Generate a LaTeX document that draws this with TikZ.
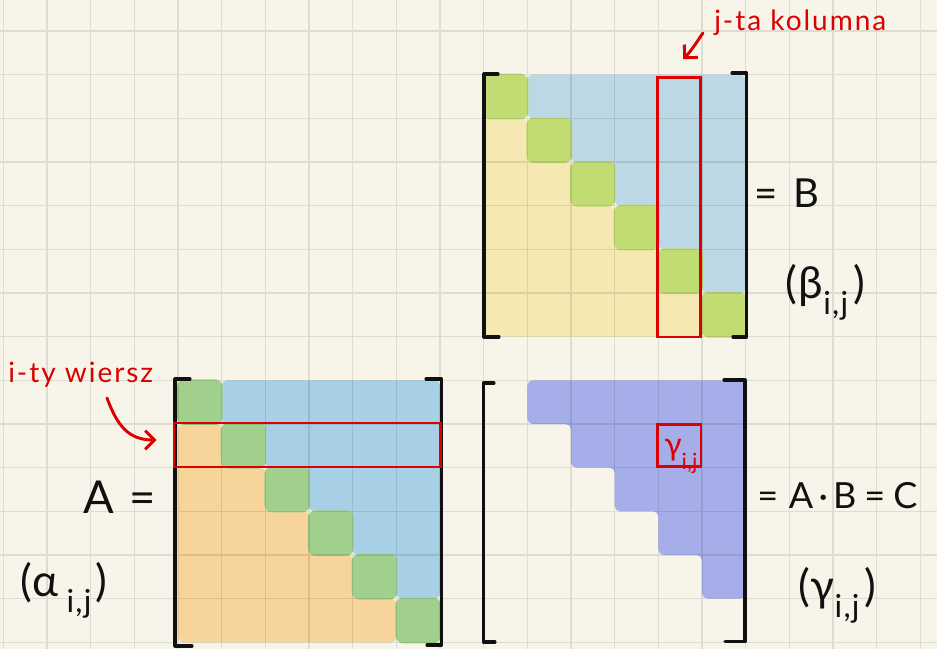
\documentclass[tikz,border=0pt]{standalone}
\usepackage{fontspec}
\setmainfont{Lato}
\newfontfamily\penfont{Lato}[LetterSpace=7.0]
\newfontfamily\inkfont{Lato}[LetterSpace=4.0]
\usetikzlibrary{arrows.meta}
\definecolor{bg}{HTML}{F7F5E9}
\definecolor{Ablue}{HTML}{A7CFE5}
\definecolor{Agreen}{HTML}{A0D08C}
\definecolor{Aorange}{HTML}{F6D49A}
\definecolor{Bblue}{HTML}{BCD8E4}
\definecolor{Bgreen}{HTML}{C2DC74}
\definecolor{Byellow}{HTML}{F5E8B2}
\definecolor{Cpurple}{HTML}{A6AEEA}
\definecolor{pen}{HTML}{DD0000}
\definecolor{ink}{HTML}{111111}
\newcommand\subij{\raisebox{-0.75ex}{\scalebox{0.72}{i,j}}}
\tikzset{
  gridline/.style={draw=black, draw opacity=0.1, line width=1.1pt},
  blob/.style={rounded corners=4pt},
  brk/.style={draw=ink, line width=2.3pt, line cap=round, line join=round},
  redbox/.style={draw=pen, line width=2.2pt, inner sep=0pt, rectangle},
  redarrow/.style={draw=pen, line width=2.2pt, line cap=round,
    -{Straight Barb[length=7pt,width=14pt,line width=2.2pt]}},
  redlabel/.style={text=pen, font=\penfont\fontsize{21}{21}\selectfont, inner sep=0pt},
  biglabel/.style={text=ink, inner sep=0pt},
}
\begin{document}
\begin{tikzpicture}[x=0.75pt,y=-0.75pt]
\useasboundingbox (0,0) rectangle (937,649);
\fill[bg] (0,0) rectangle (937,649);
% lattice coordinates of the three matrices
\foreach \m/\ox/\oy in {A/178/380.3, B/483.7/74.7, C/483.7/380.3}
  \foreach \r in {0,...,6}
    \foreach \c in {0,...,6}
      \coordinate (\m-\r-\c) at ({\ox+\c*43.67},{\oy+\r*43.67});
% matrix A
\fill[Ablue, blob] (A-0-1) -- (A-0-6) -- (A-5-6) -- (A-5-5) -- (A-4-5) -- (A-4-4) -- (A-3-4) -- (A-3-3) -- (A-2-3) -- (A-2-2) -- (A-1-2) -- (A-1-1) -- cycle;
\fill[Aorange, blob] (A-1-0) -- (A-1-1) -- (A-2-1) -- (A-2-2) -- (A-3-2) -- (A-3-3) -- (A-4-3) -- (A-4-4) -- (A-5-4) -- (A-5-5) -- (A-6-5) -- (A-6-0) -- cycle;
\foreach \i [evaluate=\i as \j using int(\i+1)] in {0,...,5}
  \fill[Agreen, rounded corners=6pt] ([shift={(-1,-1)}]A-\i-\i) rectangle ([shift={(1,1)}]A-\j-\j);
% matrix B
\fill[Bblue, blob] (B-0-1) -- (B-0-6) -- (B-5-6) -- (B-5-5) -- (B-4-5) -- (B-4-4) -- (B-3-4) -- (B-3-3) -- (B-2-3) -- (B-2-2) -- (B-1-2) -- (B-1-1) -- cycle;
\fill[Byellow, blob] (B-1-0) -- (B-1-1) -- (B-2-1) -- (B-2-2) -- (B-3-2) -- (B-3-3) -- (B-4-3) -- (B-4-4) -- (B-5-4) -- (B-5-5) -- (B-6-5) -- (B-6-0) -- cycle;
\foreach \i [evaluate=\i as \j using int(\i+1)] in {0,...,5}
  \fill[Bgreen, rounded corners=6pt] ([shift={(-1,-1)}]B-\i-\i) rectangle ([shift={(1,1)}]B-\j-\j);
% matrix C
\fill[Cpurple, blob] (C-0-1) -- (C-0-6) -- (C-5-6) -- (C-5-5) -- (C-4-5) -- (C-4-4) -- (C-3-4) -- (C-3-3) -- (C-2-3) -- (C-2-2) -- (C-1-2) -- (C-1-1) -- cycle;
% grid paper
\draw[gridline]
  \foreach \k in {0,...,21} { ({3.3+\k*43.67},0) -- ({3.3+\k*43.67},649) }
  \foreach \k in {0,...,15} { (0,{-12.67+\k*43.67}) -- (937,{-12.67+\k*43.67}) };
% brackets
\draw[brk] (190,379) -- (175,379) -- (175,646) -- (192,646);
\draw[brk] (426,379) -- (441.7,379) -- (441.7,645) -- (427,645);
\draw[brk] (498,74) -- (484,74) -- (484,337) -- (499,337);
\draw[brk] (732,73) -- (746.7,73) -- (746.7,337) -- (733,337);
\draw[brk] (494,383) -- (483.3,383) -- (483.3,642) -- (495,642);
\draw[brk] (724,380) -- (745,380) -- (745,641.7) -- (725,641.7);
% red boxes
\node[redbox, minimum width=200pt, minimum height=33pt] (rowbox) at (307.35,445) {};
\node[redbox, minimum width=32.25pt, minimum height=194.5pt] (colbox) at (679.2,207.35) {};
\node[redbox, minimum width=32.5pt, minimum height=31.8pt] (cellbox) at (679.35,445.5) {};
\node[text=pen, inner sep=0pt, anchor=base west, font=\fontsize{24}{24}\selectfont] (gij) at (664,455) {γ\raisebox{-0.9ex}{\scalebox{0.7}{i,j}}};
% red labels and arrows
\node[redlabel, anchor=base west] (jlabel) at (714,31) {j-ta kolumna};
\node[redlabel, anchor=base west] (ilabel) at (8,382) {i-ty wiersz};
\coordinate (jtail) at (703,33);
\coordinate (itail) at (107,398);
\draw[redarrow] (jtail) .. controls (698,40) and (692,50) .. ([shift={(27,-17)}]colbox.north west);
\draw[redarrow] (itail) .. controls (117,425) and (128,440) .. ([shift={(-16,-5)}]rowbox.west);
% black labels
\node[biglabel, anchor=base west, font=\fontsize{34}{34}\selectfont] (Aeq) at (83,513) {A\hspace{12pt}=};
\node[biglabel, anchor=base west, font=\fontsize{30}{30}\selectfont] (Beq) at (754,207) {=\hspace{12pt}B};
\node[biglabel, anchor=base west, font=\fontsize{27}{27}\selectfont] (Ceq) at (757,508) {=\hspace{8pt}A\hspace{4pt}·\hspace{4pt}B\hspace{6pt}=\hspace{6pt}C};
\node[biglabel, anchor=base west, font=\inkfont\fontsize{33}{33}\selectfont] (alab) at (20,596) {(α\hspace{6pt}\subij\hspace{3pt})};
\node[biglabel, anchor=base west, font=\inkfont\fontsize{33}{33}\selectfont] (blab) at (785,298) {(β\subij\hspace{4pt})};
\node[biglabel, anchor=base west, font=\inkfont\fontsize{33}{33}\selectfont] (glab) at (798,601) {(γ\subij\hspace{4pt})};
\end{tikzpicture}
\end{document}
